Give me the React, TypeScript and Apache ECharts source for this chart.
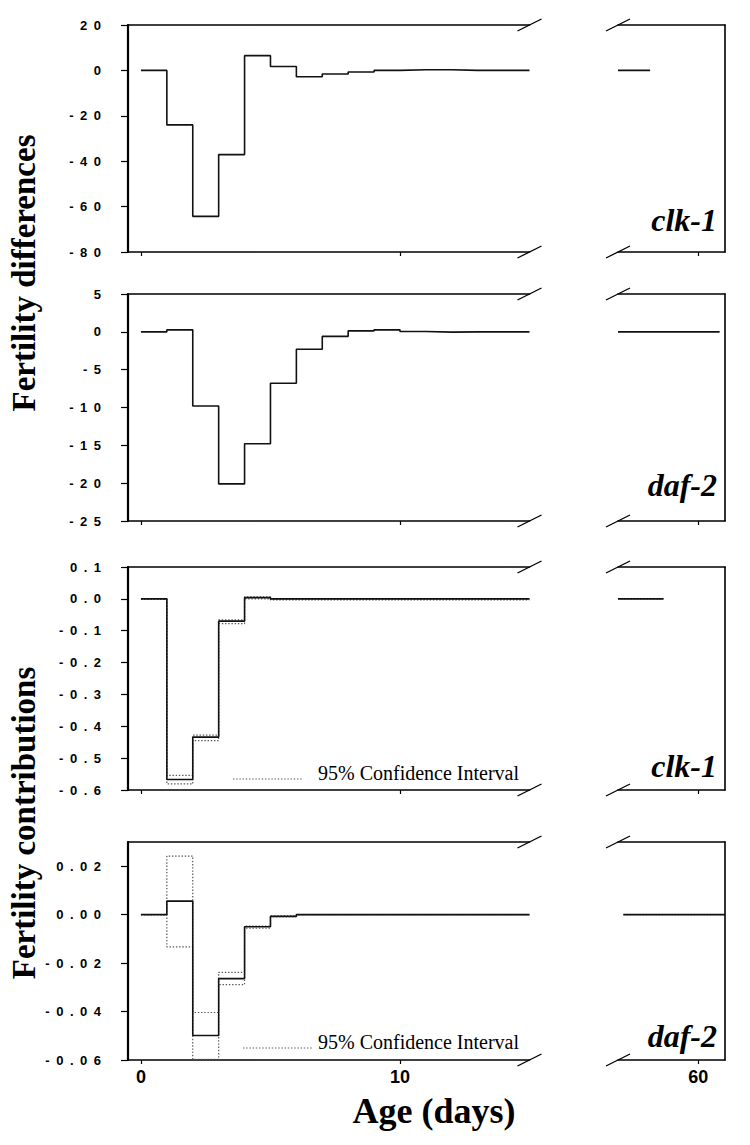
import React, { useEffect, useRef } from "react";
import * as echarts from "echarts";

// ---------- data ----------
// value of each step holds from day i to day i+1 (last point closes the step at day 15)
const DAYS = [0, 1, 2, 3, 4, 5, 6, 7, 8, 9, 10, 11, 12, 13, 14, 15];

const CLK1_DIFF = [0, -24, -64.3, -37.1, 6.5, 1.7, -2.8, -1.6, -0.7, 0, 0.3, 0.3, 0, 0, 0, 0];
const DAF2_DIFF = [0, 0.26, -9.8, -20.1, -14.8, -6.8, -2.3, -0.6, 0.13, 0.26, 0.04, -0.04, 0, 0, 0, 0];

const CLK1_CONTRIB = [0, -0.567, -0.434, -0.07, 0.004, 0, 0, 0, 0, 0, 0, 0, 0, 0, 0, 0];
const CLK1_UPPER = [0, -0.554, -0.428, -0.066, 0.006, -0.001, -0.001, -0.001, -0.001, -0.001, -0.001, -0.001, -0.001, -0.001, -0.001, -0.001];
const CLK1_LOWER = [-0.002, -0.581, -0.445, -0.078, 0.0, -0.003, -0.003, -0.003, -0.003, -0.003, -0.003, -0.003, -0.003, -0.003, -0.003, -0.003];

const DAF2_CONTRIB = [0, 0.0056, -0.0499, -0.0264, -0.005, -0.0007, 0, 0, 0, 0, 0, 0, 0, 0, 0, 0];
const DAF2_UPPER = [0, 0.0242, -0.0404, -0.0238, -0.0047, -0.0005, 0, 0, 0, 0, 0, 0, 0, 0, 0, 0];
const DAF2_LOWER = [0, -0.0133, -0.0597, -0.0289, -0.0056, -0.0008, 0, 0, 0, 0, 0, 0, 0, 0, 0, 0];

// late-life segment (after the axis break): start / end day of the flat zero line
const CLK1_DIFF_LATE = [57, 58.2];
const DAF2_DIFF_LATE = [57, 60.8];
const CLK1_CONTRIB_LATE = [57, 58.7];
const DAF2_CONTRIB_LATE = [57.2, 61];
const LATE_VALUE = 0;

// x axis
const EARLY_MIN = -0.5;
const EARLY_MAX = 15;
const EARLY_TICKS = [0, 10];
const EARLY_TICK_LABELS = ["0", "10"];
const LATE_MIN = 57;
const LATE_MAX = 61;
const LATE_TICKS = [60];
const LATE_TICK_LABELS = ["60"];

// y axes (tick labels are letter-spaced in the original figure)
const P1_TICKS = [20, 0, -20, -40, -60, -80];
const P1_LABELS = ["2 0", "0", "- 2 0", "- 4 0", "- 6 0", "- 8 0"];
const P2_TICKS = [5, 0, -5, -10, -15, -20, -25];
const P2_LABELS = ["5", "0", "- 5", "- 1 0", "- 1 5", "- 2 0", "- 2 5"];
const P3_TICKS = [0.1, 0, -0.1, -0.2, -0.3, -0.4, -0.5, -0.6];
const P3_LABELS = ["0 . 1", "0 . 0", "- 0 . 1", "- 0 . 2", "- 0 . 3", "- 0 . 4", "- 0 . 5", "- 0 . 6"];
const P4_TICKS = [0.02, 0, -0.02, -0.04, -0.06];
const P4_LABELS = ["0 . 0 2", "0 . 0 0", "- 0 . 0 2", "- 0 . 0 4", "- 0 . 0 6"];

const GENE_LABELS = ["clk-1", "daf-2", "clk-1", "daf-2"];
const TITLE_DIFF = "Fertility differences";
const TITLE_CONTRIB = "Fertility contributions";
const X_TITLE = "Age (days)";
const CI_LABEL = "95% Confidence Interval";

// ---------- layout ----------
const LEFT_X = 128;
const LEFT_W = 401.5;
const RIGHT_X = 618;
const RIGHT_W = 107;
const PANEL_TOPS = [25, 294, 567, 842];
const PANEL_HEIGHTS = [227, 227, 223, 218];
const GENE_OFFSETS = [16, 20, 8, 8];

const SERIF = "'Liberation Serif', 'Times New Roman', serif";
const SANS = "'Liberation Sans', Arial, sans-serif";
const EN_SPACE = "\u2002";

type Panel = {
  min: number;
  max: number;
  ticks: number[];
  labels: string[];
  main: number[];
  upper?: number[];
  lower?: number[];
  late: number[];
};

const PANELS: Panel[] = [
  { min: -80, max: 20, ticks: P1_TICKS, labels: P1_LABELS, main: CLK1_DIFF, late: CLK1_DIFF_LATE },
  { min: -25, max: 5, ticks: P2_TICKS, labels: P2_LABELS, main: DAF2_DIFF, late: DAF2_DIFF_LATE },
  {
    min: -0.6, max: 0.1, ticks: P3_TICKS, labels: P3_LABELS, main: CLK1_CONTRIB,
    upper: CLK1_UPPER, lower: CLK1_LOWER, late: CLK1_CONTRIB_LATE,
  },
  {
    min: -0.06, max: 0.03, ticks: P4_TICKS, labels: P4_LABELS, main: DAF2_CONTRIB,
    upper: DAF2_UPPER, lower: DAF2_LOWER, late: DAF2_CONTRIB_LATE,
  },
];

function labelFor(ticks: number[], labels: string[], spaced: boolean) {
  return (v: number) => {
    let best = -1;
    let bd = Infinity;
    ticks.forEach((t, i) => {
      const d = Math.abs(t - v);
      if (d < bd) {
        bd = d;
        best = i;
      }
    });
    if (best < 0 || bd > 1e-6 * Math.max(1, Math.abs(v)) + 1e-9) return "";
    const s = labels[best];
    return spaced ? s.split(" ").join(EN_SPACE) : s;
  };
}

function buildOption() {
  const grids: any[] = [];
  const xAxes: any[] = [];
  const yAxes: any[] = [];
  const series: any[] = [];
  const graphics: any[] = [];

  const solid = { color: "#111", width: 1.6, type: "solid" };
  const dotted = { color: "#555", width: 1.2, type: [1.4, 1.8] };

  PANELS.forEach((p, i) => {
    const top = PANEL_TOPS[i];
    const h = PANEL_HEIGHTS[i];
    const isLast = i === PANELS.length - 1;
    const gL = grids.length;
    grids.push({ left: LEFT_X, top, width: LEFT_W, height: h, outerBoundsMode: "none" });
    grids.push({ left: RIGHT_X, top, width: RIGHT_W, height: h, outerBoundsMode: "none" });

    const bottomX = (gi: number, min: number, max: number, ticks: number[], labels: string[]) => ({
      type: "value",
      gridIndex: gi,
      position: "bottom",
      min,
      max,
      axisLine: { show: true, onZero: false, lineStyle: { color: "#000", width: 1.5 } },
      axisTick: { show: true, customValues: ticks, length: 4, lineStyle: { color: "#000", width: 1.2 } },
      axisLabel: {
        show: isLast,
        customValues: ticks,
        formatter: labelFor(ticks, labels, false),
        margin: 8,
        fontFamily: SANS,
        fontWeight: "bold",
        fontSize: 18,
        color: "#000",
      },
      splitLine: { show: false },
    });
    const topX = (gi: number, min: number, max: number) => ({
      type: "value",
      gridIndex: gi,
      position: "top",
      min,
      max,
      axisLine: { show: true, onZero: false, lineStyle: { color: "#000", width: 1.5 } },
      axisTick: { show: false },
      axisLabel: { show: false },
      splitLine: { show: false },
    });

    const xl = xAxes.length;
    xAxes.push(bottomX(gL, EARLY_MIN, EARLY_MAX, EARLY_TICKS, EARLY_TICK_LABELS));
    xAxes.push(topX(gL, EARLY_MIN, EARLY_MAX));
    xAxes.push(bottomX(gL + 1, LATE_MIN, LATE_MAX, LATE_TICKS, LATE_TICK_LABELS));
    xAxes.push(topX(gL + 1, LATE_MIN, LATE_MAX));

    const yl = yAxes.length;
    yAxes.push({
      type: "value",
      gridIndex: gL,
      position: "left",
      min: p.min,
      max: p.max,
      axisLine: { show: true, onZero: false, lineStyle: { color: "#000", width: 2.2 } },
      axisTick: { show: true, customValues: p.ticks, length: 7, lineStyle: { color: "#000", width: 1.2 } },
      axisLabel: {
        customValues: p.ticks,
        formatter: labelFor(p.ticks, p.labels, true),
        margin: 27,
        fontFamily: SANS,
        fontWeight: "bold",
        fontSize: 13,
        color: "#000",
      },
      splitLine: { show: false },
    });
    yAxes.push({
      type: "value",
      gridIndex: gL + 1,
      position: "right",
      min: p.min,
      max: p.max,
      axisLine: { show: true, onZero: false, lineStyle: { color: "#000", width: 1.6 } },
      axisTick: { show: false },
      axisLabel: { show: false },
      splitLine: { show: false },
    });

    const stepSeries = (vals: number[], style: any, z: number) => ({
      type: "line",
      xAxisIndex: xl,
      yAxisIndex: yl,
      step: "end",
      showSymbol: false,
      symbol: "none",
      silent: true,
      z,
      lineStyle: style,
      data: DAYS.map((d, k) => [d, vals[k]]),
    });
    const lateSeries = (style: any, z: number) => ({
      type: "line",
      xAxisIndex: xl + 2,
      yAxisIndex: yl + 1,
      showSymbol: false,
      symbol: "none",
      silent: true,
      z,
      lineStyle: style,
      data: p.late.map((d) => [d, LATE_VALUE]),
    });

    if (p.upper) series.push(stepSeries(p.upper, dotted, 2));
    if (p.lower) series.push(stepSeries(p.lower, dotted, 2));
    series.push(stepSeries(p.main, solid, 3));
    if (p.upper) series.push(lateSeries({ ...dotted, width: 1.4 }, 2));
    series.push(lateSeries(solid, 3));

    // axis-break slashes
    [top, top + h].forEach((yy) => {
      [LEFT_X + LEFT_W, RIGHT_X].forEach((xx) => {
        graphics.push({
          type: "line",
          silent: true,
          z: 10,
          shape: { x1: xx - 12, y1: yy + 6, x2: xx + 12, y2: yy - 6 },
          style: { stroke: "#000", lineWidth: 1.3 },
        });
      });
    });

    // gene label
    graphics.push({
      type: "text",
      silent: true,
      z: 10,
      style: {
        text: GENE_LABELS[i],
        x: RIGHT_X + RIGHT_W - 8,
        y: top + h - GENE_OFFSETS[i],
        textAlign: "right",
        textVerticalAlign: "bottom",
        font: `italic bold 32px ${SERIF}`,
        fill: "#000",
      },
    });

    // confidence interval key
    if (p.upper) {
      const ky = top + h - (i === 2 ? 11 : 12);
      const kx = i === 2 ? 233 : 243;
      graphics.push({
        type: "line",
        silent: true,
        z: 10,
        shape: { x1: kx, y1: ky, x2: kx + 70, y2: ky },
        style: { stroke: "#555", lineWidth: 1.2, lineDash: [1.4, 1.8] },
      });
      graphics.push({
        type: "text",
        silent: true,
        z: 10,
        style: {
          text: CI_LABEL,
          x: 318,
          y: ky - 6,
          textAlign: "left",
          textVerticalAlign: "middle",
          font: `20px ${SERIF}`,
          fill: "#000",
        },
      });
    }
  });

  // y titles
  graphics.push({
    type: "text",
    silent: true,
    x: 24,
    y: 273,
    rotation: Math.PI / 2,
    style: {
      text: TITLE_DIFF,
      x: 0,
      y: 0,
      textAlign: "center",
      textVerticalAlign: "middle",
      font: `bold 33px ${SERIF}`,
      fill: "#000",
    },
  });
  graphics.push({
    type: "text",
    silent: true,
    x: 24,
    y: 823,
    rotation: Math.PI / 2,
    style: {
      text: TITLE_CONTRIB,
      x: 0,
      y: 0,
      textAlign: "center",
      textVerticalAlign: "middle",
      font: `bold 33px ${SERIF}`,
      fill: "#000",
    },
  });
  // x title
  graphics.push({
    type: "text",
    silent: true,
    style: {
      text: X_TITLE,
      x: 434,
      y: 1111,
      textAlign: "center",
      textVerticalAlign: "middle",
      font: `bold 36px ${SERIF}`,
      fill: "#000",
    },
  });

  return {
    animation: false,
    backgroundColor: "#fff",
    grid: grids,
    xAxis: xAxes,
    yAxis: yAxes,
    series,
    graphic: graphics,
  };
}

export default function App() {
  const ref = useRef<HTMLDivElement>(null);
  useEffect(() => {
    if (!ref.current) return;
    const chart = echarts.init(ref.current, undefined, { renderer: "svg" });
    chart.setOption(buildOption() as any);
    return () => chart.dispose();
  }, []);
  return (
    <div
      ref={ref}
      style={{ position: "fixed", left: 0, top: 0, width: 750, height: 1145, background: "#fff" }}
    />
  );
}
